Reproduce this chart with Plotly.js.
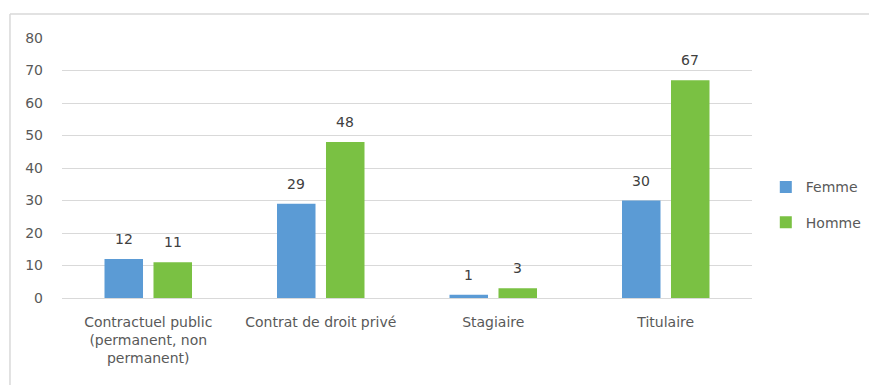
<!DOCTYPE html>
<html>
<head>
<meta charset="utf-8">
<script src="https://cdn.plot.ly/plotly-3.0.1.min.js"></script>
<style>html,body{margin:0;padding:0;background:#fff;}#chart{width:869px;height:385px;}</style>
</head>
<body>
<div id="chart"></div>
<script>
var categories = ["Contractuel public<br>(permanent, non<br>permanent)", "Contrat de droit privé", "Stagiaire", "Titulaire"];
var femme = [12, 29, 1, 30];
var homme = [11, 48, 3, 67];
var seriesNames = ["Femme", "Homme"];
var yTicks = [0, 10, 20, 30, 40, 50, 60, 70, 80];

var fam = "DejaVu Sans, sans-serif";
var font = {family: fam, size: 14, color: "#595959"};
var labelFont = {family: fam, size: 14, color: "#404040"};
var traces = [
  {type: "bar", name: seriesNames[0], legendgroup: "f", x: categories, y: femme, marker: {color: "#5B9BD5"}},
  {type: "bar", name: seriesNames[1], legendgroup: "h", x: categories, y: homme, marker: {color: "#7AC143"}}
];
var annotations = [];
[[femme, -24.5], [homme, 24.5]].forEach(function (s) {
  s[0].forEach(function (v, i) {
    annotations.push({x: categories[i], y: v, xref: "x", yref: "y", text: String(v), showarrow: false,
      xshift: s[1], yanchor: "bottom", yshift: 10, font: labelFont});
  });
});
var layout = {
  width: 869, height: 385,
  margin: {l: 62, r: 117, t: 38, b: 87, autoexpand: false},
  paper_bgcolor: "#ffffff", plot_bgcolor: "#ffffff",
  font: font,
  barmode: "group", bargap: 0.432, bargroupgap: 0.214,
  showlegend: true,
  legend: {x: 1.02, y: 0.358, xanchor: "left", yanchor: "middle", font: {family: fam, size: 14, color: "#595959"},
           traceorder: "grouped", tracegroupgap: 14, itemwidth: 30},
  xaxis: {type: "category", showgrid: false, showline: true, linecolor: "#d9d9d9", ticks: "", ticklabelstandoff: 11,
          tickfont: {family: fam, size: 14, color: "#595959"}, automargin: false},
  yaxis: {range: [0, 80], tickvals: yTicks, showgrid: true, gridcolor: "#d9d9d9", zeroline: false, showline: false,
          ticks: "", ticklabelstandoff: 18, tickfont: {family: fam, size: 14, color: "#595959"}, automargin: false},
  annotations: annotations,
  shapes: [
    {type: "line", xref: "paper", yref: "paper", x0: -0.0754, x1: -0.0754, y0: -0.34, y1: 1.092, line: {color: "#d9d9d9", width: 1.5}},
    {type: "line", xref: "paper", yref: "paper", x0: -0.0754, x1: 1.2, y0: 1.092, y1: 1.092, line: {color: "#d9d9d9", width: 1.5}}
  ]
};
Plotly.newPlot("chart", traces, layout, {displayModeBar: false, staticPlot: true});
</script>
</body>
</html>
